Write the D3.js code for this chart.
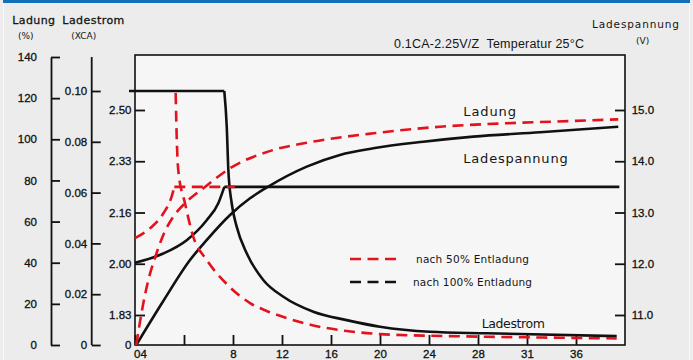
<!DOCTYPE html>
<html>
<head>
<meta charset="utf-8">
<script src="https://cdn.jsdelivr.net/npm/d3@7"></script>
<style>
  body { margin: 0; background: #ececec; }
  svg { display: block; font-family: "DejaVu Sans", Verdana, sans-serif; }
  .axis text { font-size: 11.5px; fill: #111; stroke: #111; stroke-width: 0.3px; }
  .axis line, .axis path { stroke: #111; stroke-width: 1.8; }
  .label { fill: #151515; }
</style>
</head>
<body>
<div id="chart"></div>
<script>
///////////////////////////////////////////////////////////////////////////////
//// Data /////////////////////////////////////////////////////////////////////
///////////////////////////////////////////////////////////////////////////////
const hourTicks = [0, 4, 8, 12, 16, 20, 24, 28, 32, 36];
const hourLabels = ["04", "", "8", "12", "16", "20", "24", "28", "31", "36"];
const ladungTicks = [0, 20, 40, 60, 80, 100, 120, 140];
const stromTicks = [0, 0.02, 0.04, 0.06, 0.08, 0.10];
const spannungTicks = [11, 12, 13, 14, 15];       // Ladespannung (V)
const zellLabels = ["1.83", "2.00", "2.16", "2.33", "2.50"]; // per cell

// [hours, value] - nach 100% Entladung (black)
const strom100 = [[-0.49, 0.1000], [7.29, 0.1000], [7.49, 0.0859], [7.62, 0.0689], [7.89, 0.0559],
  [8.30, 0.0466], [9.12, 0.0361], [10.47, 0.0256], [12.11, 0.0190], [14.56, 0.0131], [17.28, 0.0098],
  [20.0, 0.0072], [24.08, 0.0052], [28.71, 0.0046], [39.32, 0.0035]];
const spannung100 = [[0, 12.02], [2.31, 12.20], [4.22, 12.46], [5.85, 12.85], [6.80, 13.18],
  [7.29, 13.50], [39.54, 13.50]];
const ladung100 = [[0.1, 0], [2.31, 21.4], [4.49, 41.3], [5.85, 51.0], [7.76, 63.2], [9.39, 71.3],
  [10.88, 77.0], [14.02, 86.7], [16.73, 92.4], [19.45, 95.6], [23.53, 98.8], [27.62, 101.3],
  [33.06, 103.4], [39.45, 106.1]];

// [hours, value] - nach 50% Entladung (red)
const strom50 = [[3.32, 0.0992], [3.40, 0.0827], [3.53, 0.0689], [4.08, 0.0558], [4.76, 0.0426],
  [5.85, 0.0335], [7.49, 0.0240], [9.39, 0.0165], [10.75, 0.0134], [12.38, 0.0106], [14.56, 0.0077],
  [17.28, 0.0055], [20.0, 0.0043], [23.53, 0.0037], [28.16, 0.0033], [39.32, 0.0026]];
const spannung50 = [[0, 12.50], [1.22, 12.69], [2.31, 12.98], [2.99, 13.31], [3.21, 13.50], [8.16, 13.50]];
const ladung50 = [[0.1, 0], [0.68, 20.3], [1.09, 31.6], [1.63, 42.3], [2.31, 53.5], [3.13, 62.4],
  [4.08, 68.9], [5.58, 76.2], [7.76, 85.9], [11.29, 94.8], [14.02, 98.3], [19.45, 102.9],
  [24.90, 106.1], [30.34, 107.8], [35.78, 108.9], [39.45, 109.7]];

///////////////////////////////////////////////////////////////////////////////
//// Set Up ///////////////////////////////////////////////////////////////////
///////////////////////////////////////////////////////////////////////////////
const totalWidth = 693;
const totalHeight = 360;
const plot = {left: 135, top: 55, right: 625, bottom: 345};

const red = "#e3121d";
const black = "#111";
const dash = "11,6.5";

const svg = d3.select("#chart").append("svg")
    .attr("width", totalWidth)
    .attr("height", totalHeight);

// Scales
const x = d3.scaleLinear().domain([0, 40]).range([plot.left, plot.right]);
const yLadung = d3.scaleLinear().domain([0, 140]).range([plot.bottom, 57]);
const yStrom = d3.scaleLinear().domain([0, 0.10]).range([plot.bottom, 91]);
const ySpannung = d3.scaleLinear().domain([11, 15]).range([315, 110]);

///////////////////////////////////////////////////////////////////////////////
//// Frame ////////////////////////////////////////////////////////////////////
///////////////////////////////////////////////////////////////////////////////
svg.append("rect")
    .attr("width", totalWidth)
    .attr("height", totalHeight)
    .style("fill", "#ececec");

svg.append("rect")
    .attr("x", 3)
    .attr("y", 0)
    .attr("width", totalWidth - 6)
    .attr("height", 3)
    .style("fill", "#136fb6");

[3.5, totalWidth - 3.5].forEach(xPos => {
  svg.append("line")
      .attr("x1", xPos).attr("x2", xPos)
      .attr("y1", 3).attr("y2", totalHeight)
      .style("stroke", "#f8f8f8");
});

svg.append("rect")
    .attr("x", plot.left)
    .attr("y", plot.top)
    .attr("width", plot.right - plot.left)
    .attr("height", plot.bottom - plot.top)
    .style("fill", "#f6f6f6")
    .style("stroke", black)
    .style("stroke-width", 1.6);

///////////////////////////////////////////////////////////////////////////////
//// Axes /////////////////////////////////////////////////////////////////////
///////////////////////////////////////////////////////////////////////////////
// Ladung (%)
const ladungAxis = svg.append("g")
    .attr("class", "axis")
    .attr("transform", "translate(51, 0)")
    .call(d3.axisRight(yLadung).tickValues(ladungTicks).tickSize(9).tickSizeOuter(0));
ladungAxis.selectAll("text").attr("x", -14).style("text-anchor", "end");

// Ladestrom (XCA)
const stromAxis = svg.append("g")
    .attr("class", "axis")
    .attr("transform", "translate(91.7, 0)")
    .call(d3.axisRight(yStrom).tickValues(stromTicks).tickSize(9).tickSizeOuter(0)
      .tickFormat(d => d === 0 ? "0" : d3.format(".2f")(d)));
stromAxis.select(".domain").attr("d", `M0,${plot.bottom}V${yLadung(140)}`);
stromAxis.selectAll("text").attr("x", -4.5).style("text-anchor", "end");

// Voltage per cell (inside left)
const zellAxis = svg.append("g")
    .attr("class", "axis")
    .attr("transform", `translate(${plot.left}, 0)`)
    .call(d3.axisRight(ySpannung).tickValues(spannungTicks).tickSize(10)
      .tickFormat((d, i) => zellLabels[i]));
zellAxis.select(".domain").remove();
zellAxis.selectAll("text").attr("x", -3.5).style("text-anchor", "end");
zellAxis.append("text")
    .attr("x", -3.5)
    .attr("y", plot.bottom)
    .attr("dy", "0.32em")
    .style("text-anchor", "end")
    .text("0");

// Ladespannung (V), right
const spannungAxis = svg.append("g")
    .attr("class", "axis")
    .attr("transform", `translate(${plot.right}, 0)`)
    .call(d3.axisLeft(ySpannung).tickValues(spannungTicks).tickSize(10).tickFormat(d3.format(".1f")));
spannungAxis.select(".domain").remove();
spannungAxis.selectAll("text").attr("x", 6.7).style("text-anchor", "start");

// Hours
const hourAxis = svg.append("g")
    .attr("class", "axis")
    .attr("transform", `translate(0, ${plot.bottom})`)
    .call(d3.axisTop(x).tickValues(hourTicks).tickSize(10).tickFormat((d, i) => hourLabels[i]));
hourAxis.select(".domain").remove();
hourAxis.selectAll("text")
    .attr("y", 9)
    .attr("dy", "0.35em")
    .attr("dx", d => d === 0 ? 5 : 0);

///////////////////////////////////////////////////////////////////////////////
//// Curves ///////////////////////////////////////////////////////////////////
///////////////////////////////////////////////////////////////////////////////
const curves = [
  {data: ladung100, y: yLadung, color: black, dashed: false},
  {data: spannung100, y: ySpannung, color: black, dashed: false},
  {data: strom100, y: yStrom, color: black, dashed: false},
  {data: ladung50, y: yLadung, color: red, dashed: true},
  {data: spannung50, y: ySpannung, color: red, dashed: true},
  {data: strom50, y: yStrom, color: red, dashed: true}
];

// Split a series where it meets a flat run, so the corner stays sharp
function splitAtCorner(data) {
  for (let i = 1; i < data.length - 1; i++) {
    if (data[i][1] === data[i + 1][1] || data[i - 1][1] === data[i][1]) {
      return [data.slice(0, i + 1), data.slice(i)];
    }
  }
  return [data];
}

curves.forEach(c => {
  const line = d3.line()
      .x(d => x(d[0]))
      .y(d => c.y(d[1]))
      .curve(d3.curveMonotoneX);

  const parts = splitAtCorner(c.data);
  const d = parts.map(p => line(p)).join("");

  svg.append("path")
      .attr("d", d)
      .style("fill", "none")
      .style("stroke", c.color)
      .style("stroke-width", 2.6)
      .style("stroke-linejoin", "miter")
      .style("stroke-dasharray", c.dashed ? dash : null);
});

///////////////////////////////////////////////////////////////////////////////
//// Texts ////////////////////////////////////////////////////////////////////
///////////////////////////////////////////////////////////////////////////////
function addText(txt, xPos, yPos, size, opts = {}) {
  const t = svg.append("text")
      .attr("class", "label")
      .attr("x", xPos)
      .attr("y", yPos)
      .style("font-size", size + "px")
      .style("text-anchor", opts.anchor || "start")
      .style("white-space", "pre")
      .text(txt);
  if (opts.len) t.attr("textLength", opts.len).attr("lengthAdjust", "spacing");
  if (opts.family) t.style("font-family", opts.family);
  if (opts.heavy) t.style("stroke", "#151515").style("stroke-width", "0.3px");
  return t;
}

addText("Ladung", 12.3, 24, 11, {len: 42.7, heavy: true});
addText("(%)", 25.7, 39, 9, {anchor: "middle"});
addText("Ladestrom", 62.3, 24, 11, {len: 62, heavy: true});
addText("(XCA)", 83.7, 39, 9, {anchor: "middle"});
addText("Ladespannung", 592, 27.5, 10.5, {len: 87});
addText("(V)", 642.7, 44, 9, {anchor: "middle"});
addText("0.1CA-2.25V/Z  Temperatur 25°C", 394, 48, 12.5,
  {len: 190, family: "'Liberation Sans Narrow', 'Liberation Sans', sans-serif"});

addText("Ladung", 463.3, 116, 13, {len: 52.7});
addText("Ladespannung", 463.3, 163.3, 13, {len: 104.4});
addText("Ladestrom", 481.7, 327.5, 12.5, {len: 63.3});

///////////////////////////////////////////////////////////////////////////////
//// Legend ///////////////////////////////////////////////////////////////////
///////////////////////////////////////////////////////////////////////////////
const legend = [
  {label: "nach 50% Entladung", color: red, y: 259, textX: 416, len: 113},
  {label: "nach 100% Entladung", color: black, y: 282, textX: 413, len: 119}
];

legend.forEach(l => {
  svg.append("line")
      .attr("x1", 350).attr("x2", 397.5)
      .attr("y1", l.y).attr("y2", l.y)
      .style("stroke", l.color)
      .style("stroke-width", 2.4)
      .style("stroke-dasharray", dash);
  addText(l.label, l.textX, l.y + 3.6, 10.5, {len: l.len});
});
</script>
</body>
</html>
